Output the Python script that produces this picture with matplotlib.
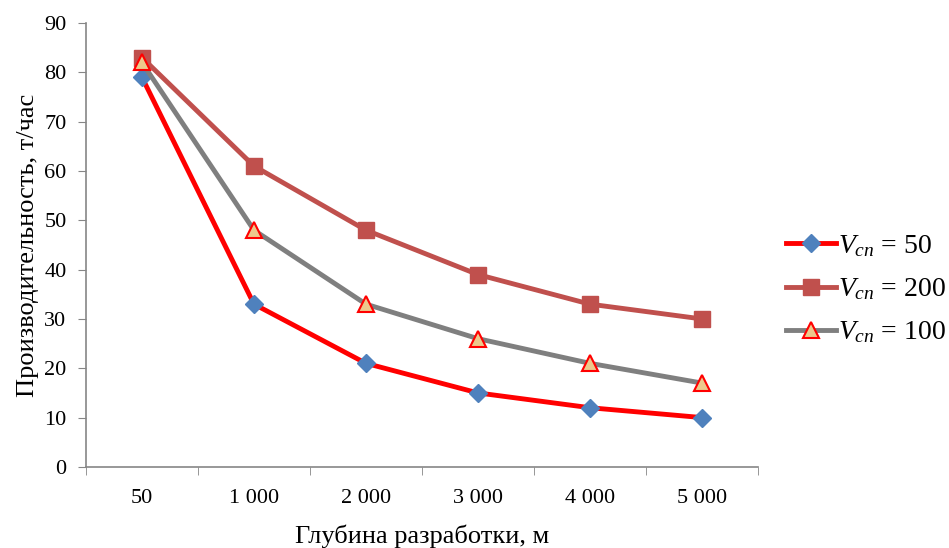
import numpy as np
import matplotlib
matplotlib.use("Agg")
import matplotlib.pyplot as plt

plt.rcParams["font.family"] = ["Liberation Serif", "DejaVu Serif"]
plt.rcParams["mathtext.fontset"] = "custom"
plt.rcParams["mathtext.rm"] = "Liberation Serif"
plt.rcParams["mathtext.it"] = "Liberation Serif:italic"

# Данные
glubina = ["50", "1 000", "2 000", "3 000", "4 000", "5 000"]
v50 = [79, 33, 21, 15, 12, 10]
v200 = [83, 61, 48, 39, 33, 30]
v100 = [82, 48, 33, 26, 21, 17]

x = np.arange(len(glubina))

fig = plt.figure(figsize=(9.49, 5.48), dpi=100)
ax = fig.add_axes([0.0906, 0.148, 0.708, 0.81])

ax.plot(x, v50, color="#FF0000", lw=3.5, marker="D", ms=9,
        mfc="#4F81BD", mec="#4F81BD", label=r"$V_{cn}$ = 50", zorder=3)
ax.plot(x, v200, color="#C0504D", lw=3.5, marker="s", ms=12,
        mfc="#C0504D", mec="#C0504D", label=r"$V_{cn}$ = 200", zorder=3)
ax.plot(x, v100, color="#7F7F7F", lw=3.5, marker="^", ms=12,
        mfc="#EDC98C", mec="#FF0000", mew=1.5, label=r"$V_{cn}$ = 100", zorder=4)

ax.set_xlim(-0.5, len(glubina) - 0.5)
ax.set_ylim(0, 90)
ax.set_yticks(range(0, 91, 10))
ax.set_xticks(x)
ax.set_xticklabels(glubina)
ax.set_xticks(np.arange(-0.5, len(glubina)), minor=True)
ax.tick_params(axis="x", which="major", length=0, pad=16, labelsize=16)
ax.tick_params(axis="x", which="minor", length=6, color="#868686")
ax.tick_params(axis="y", length=6, color="#868686", labelsize=16, pad=8)

for s in ["top", "right"]:
    ax.spines[s].set_visible(False)
for s in ["left", "bottom"]:
    ax.spines[s].set_color("#868686")
    ax.spines[s].set_linewidth(1.2)

ax.set_xlabel("Глубина разработки, м", fontsize=19, labelpad=12)
ax.set_ylabel("Производительность, т/час", fontsize=19, labelpad=4)

ax.legend(loc="center left", bbox_to_anchor=(1.0, 0.40), frameon=False,
          fontsize=20, handlelength=1.8, handletextpad=0.1, labelspacing=0.62,
          borderaxespad=0.6)

fig.savefig("out.png", dpi=100)
